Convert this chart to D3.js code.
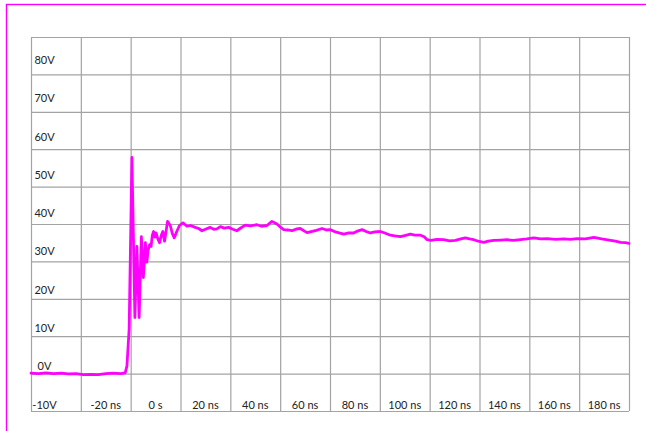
<!DOCTYPE html>
<html>
<head>
<meta charset="utf-8">
<script src="https://cdn.jsdelivr.net/npm/d3@7"></script>
<style>
  body { margin: 0; background: #fff; }
  text { font-family: Lato, "Open Sans", sans-serif; font-size: 11px; fill: #222; }
</style>
</head>
<body>
<script>
// time in ns, voltage in V
const timeNs = [
  -40, -37, -34, -31, -28, -25, -22, -19, -16, -13, -10, -7, -4, -2.2,
  -1.5, -0.6, 0.5, 1.7, 2.5, 3.4, 4.3, 5.1, 5.9, 6.5, 7.0, 7.6, 8.2, 8.7,
  9.2, 9.7, 10.2, 10.9, 11.6, 12.3, 12.9, 13.6, 14.2, 14.8, 15.9, 16.7, 17.5, 18.5,
  19.6, 21, 22.6, 24, 25.9, 27.3, 28.6, 30, 31.9, 33.3, 34.6, 36, 37.5, 39.3,
  41, 42.6, 44.3, 46, 48, 50.7, 52.5, 54.7, 56.7, 58.7, 60, 61.4, 63, 64.7,
  66.7, 68, 70.8, 72, 74.5, 76.8, 78.5, 80, 82.5, 85.5, 87.5, 89.5, 91, 92.9,
  94.5, 96.2, 98, 100.2, 102, 104.2, 106, 108.2, 110, 112.2, 114, 116.3, 117.8, 119,
  120.4, 123, 125.6, 128, 130.3, 132.5, 134.3, 136, 137.7, 139.5, 141.7, 143.5, 145.7, 148.5,
  151.1, 153.5, 156.4, 159, 161.8, 164.5, 167.1, 170.5, 173.8, 176.5, 179.2, 182.5, 185.9, 189,
  192.6, 194.5, 196.6, 198.5, 200
];
const volts = [
  0.1, 0, 0.2, 0, 0.1, -0.1, 0, -0.3, -0.2, -0.3, 0, 0.1, 0, 0.2,
  2, 12, 57.8, 15, 34, 15, 36.6, 25.7, 35, 29.8, 33, 34.5, 34, 37,
  38, 36.5, 37.6, 36, 35, 37, 38, 35.4, 38, 40.7, 39.6, 37.5, 36.3, 38,
  39.6, 40.3, 39.4, 39.6, 39.1, 38.8, 38.2, 38.6, 39.1, 38.6, 38.7, 39.3, 38.9, 39.1,
  38.6, 38.2, 39, 39.7, 39.5, 39.8, 39.4, 39.6, 40.7, 40, 39.2, 38.5, 38.4, 38.2,
  38.7, 38.8, 37.7, 37.9, 38.3, 38.8, 38.4, 38.5, 37.8, 37.3, 37.6, 37.6, 38.1, 38.5,
  38, 37.6, 37.9, 38, 37.6, 37, 36.8, 36.6, 36.9, 37.3, 37, 37, 36.6, 35.8,
  35.6, 35.9, 35.8, 35.5, 35.6, 36, 36.3, 36, 35.8, 35.4, 35.1, 35.4, 35.6, 35.7,
  35.8, 35.6, 35.8, 36, 36.3, 36, 36.1, 35.9, 36, 35.9, 36.1, 36, 36.4, 36,
  35.6, 35.4, 35.1, 35, 34.8
];
const xTicks = [-40, -20, 0, 20, 40, 60, 80, 100, 120, 140, 160, 180, 200];
const yTicks = [-10, 0, 10, 20, 30, 40, 50, 60, 70, 80, 90];
const xLabels = ["-20 ns", "0 s", "20 ns", "40 ns", "60 ns", "80 ns", "100 ns", "120 ns", "140 ns", "160 ns", "180 ns"];
const yLabels = ["80V", "70V", "60V", "50V", "40V", "30V", "20V", "10V", "0V", "-10V"];

const W = 646, H = 431;
const plotL = 31, plotR = 629, plotT = 37, plotB = 411;

const svg = d3.select("body").append("svg").attr("width", W).attr("height", H);

// magenta outer frame
svg.append("rect")
  .attr("x", 6.5).attr("y", 4.5)
  .attr("width", W).attr("height", H)
  .attr("fill", "none").attr("stroke", "#ff00ff").attr("stroke-width", 1.4);

const x = d3.scaleLinear().domain([-40, 200]).range([plotL, plotR]);
const y = d3.scaleLinear().domain([-10, 90]).range([plotB, plotT]);
// labels sit a bit off the grid spacing in the original
const yLab = d3.scaleLinear().domain([80, -10]).range([64, 408.5]);

// grid via axes
svg.append("g").attr("transform", `translate(0,${plotB})`)
  .call(d3.axisBottom(x).tickValues(xTicks).tickSize(-(plotB - plotT)).tickFormat(""));
svg.append("g").attr("transform", `translate(${plotL},0)`)
  .call(d3.axisLeft(y).tickValues(yTicks).tickSize(-(plotR - plotL)).tickFormat(""));
svg.selectAll(".domain").remove();
svg.selectAll(".tick line").attr("stroke", "#a3a3a3").attr("stroke-width", 1.2);

// labels inside the plot cells
svg.append("g").selectAll("text").data(yLabels).join("text")
  .attr("x", 44.5)
  .attr("y", (d, i) => yLab(80 - i * 10))
  .attr("text-anchor", "middle")
  .text(d => d);

svg.append("g").selectAll("text").data(xLabels).join("text")
  .attr("x", (d, i) => x(-20 + i * 20 + 10))
  .attr("y", 408.5)
  .attr("text-anchor", "middle")
  .text(d => d);

// trace
const pts = timeNs.map((t, i) => [t, volts[i]]);
const line = d3.line().x(d => x(d[0])).y(d => y(d[1]));
svg.append("path")
  .datum(pts)
  .attr("d", line)
  .attr("fill", "none")
  .attr("stroke", "#ff00ff")
  .attr("stroke-width", 2.8)
  .attr("stroke-linejoin", "round")
  .attr("stroke-linecap", "round");
</script>
</body>
</html>
